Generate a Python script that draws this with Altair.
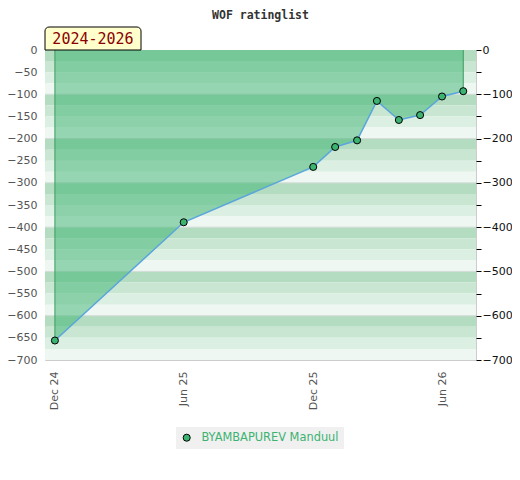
import altair as alt
import pandas as pd

# ---- data ----
dates = ["2024-12-01T00:00:00", "2025-06-01T00:00:00", "2025-12-01T00:00:00",
         "2026-01-01T00:00:00", "2026-02-01T00:00:00", "2026-03-01T00:00:00",
         "2026-04-01T00:00:00", "2026-05-01T00:00:00", "2026-06-01T00:00:00",
         "2026-07-01T00:00:00"]
ratings = [-656, -389, -264, -219, -204, -115, -158, -147, -105, -93]
player = "BYAMBAPUREV Manduul"
period_label = "2024-2026"
chart_title = "WOF ratinglist"
left_ticks = list(range(0, -701, -50))
grid_values = [-100, -200, -300, -400, -500, -600]
stripe_shades = ["#b3dcc1", "#c9e6d3", "#dcefe3", "#eff7f2"]

df = pd.DataFrame({"date": dates, "rating": ratings, "player": player})
ends = df.iloc[[0, len(df) - 1]]

# background stripes (styling): bands of 25 rating points
stripes = pd.DataFrame({
    "top": [-25 * i for i in range(28)],
    "bottom": [-25 * (i + 1) for i in range(28)],
    "shade": [stripe_shades[i % 4] for i in range(28)],
})
grid = pd.DataFrame({"v": grid_values})
label_df = pd.DataFrame({"label": [period_label]})
title_df = pd.DataFrame({"title": [chart_title]})

W, H = 431, 310
ydom = [-700, 0]

x_enc = alt.X(
    "date:T",
    scale=alt.Scale(domain=[alt.DateTime(year=2024, month=11, date=17),
                            alt.DateTime(year=2026, month=7, date=19)]),
    axis=alt.Axis(
        values=[alt.DateTime(year=2024, month=12, date=1),
                alt.DateTime(year=2025, month=6, date=1),
                alt.DateTime(year=2025, month=12, date=1),
                alt.DateTime(year=2026, month=6, date=1)],
        format="%b %y", labelAngle=-90, title=None, ticks=False,
        labelPadding=11, labelColor="#555555", labelFontSize=11,
        domain=False, grid=False,
    ),
)

bg = alt.Chart(stripes).mark_rect(opacity=1).encode(
    x=alt.value(0), x2=alt.value("width"),
    y=alt.Y("top:Q", scale=alt.Scale(domain=ydom, nice=False),
            axis=alt.Axis(orient="left", values=left_ticks, ticks=False,
                          domain=False, labelPadding=8, labelColor="#555555",
                          labelFontSize=11, title=None, grid=False)),
    y2="bottom:Q",
    fill=alt.Fill("shade:N", scale=None),
)

grid_rules = alt.Chart(grid).mark_rule(color="#d5dcd8", strokeWidth=1).encode(
    x=alt.value(0), x2=alt.value("width"),
    y=alt.Y("v:Q", scale=alt.Scale(domain=ydom, nice=False), axis=None),
)

area = alt.Chart(df).mark_area(color="#3cb371", fillOpacity=0.5).encode(
    x=x_enc,
    y=alt.Y("rating:Q", scale=alt.Scale(domain=ydom, nice=False), axis=None),
    y2=alt.datum(0),
)

sides = alt.Chart(ends).mark_rule(color="#3a9d5d", strokeWidth=1).encode(
    x=x_enc,
    y=alt.Y("rating:Q", scale=alt.Scale(domain=ydom, nice=False), axis=None),
    y2=alt.datum(0),
)

line = alt.Chart(df).mark_line(color="#5aa5dc", strokeWidth=1.5).encode(
    x=x_enc,
    y=alt.Y("rating:Q", scale=alt.Scale(domain=ydom, nice=False), axis=None),
)

points = alt.Chart(df).mark_point(
    filled=True, size=50, stroke="black", strokeWidth=1, opacity=1
).encode(
    x=x_enc,
    y=alt.Y("rating:Q", scale=alt.Scale(domain=ydom, nice=False),
            axis=alt.Axis(orient="right", values=left_ticks,
                          labelExpr="datum.value % 100 == 0 ? datum.label : ''",
                          tickColor="black", tickSize=5, labelColor="#111111",
                          labelFontSize=11, domain=False, labelPadding=1,
                          title=None, grid=False)),
    color=alt.Color("player:N", scale=alt.Scale(range=["#3cb371"]),
                    legend=alt.Legend(
                        orient="none", legendX=131, legendY=377,
                        fillColor="#f0f0f0", padding=5, title=None,
                        labelColor="#3cb371", labelFontSize=11.4,
                        labelFont="DejaVu Sans", symbolType="circle",
                        symbolSize=50, symbolStrokeColor="black",
                        symbolStrokeWidth=1, labelOffset=9)),
)

box = alt.Chart(label_df).mark_rect(
    fill="#ffffcc", stroke="black", strokeWidth=1, opacity=1,
    cornerRadiusTopLeft=4, cornerRadiusTopRight=4
).encode(x=alt.value(0), x2=alt.value(96), y=alt.value(-23), y2=alt.value(0))

box_text = alt.Chart(label_df).mark_text(
    font="DejaVu Sans Mono", fontSize=15, color="#8b0000",
    align="center", baseline="middle"
).encode(x=alt.value(48), y=alt.value(-11), text="label:N")

title_text = alt.Chart(title_df).mark_text(
    font="DejaVu Sans Mono", fontSize=11.5, fontWeight="bold", color="#333333",
    align="center", baseline="alphabetic"
).encode(x=alt.value(W / 2), y=alt.value(-31), text="title:N")

chart = alt.layer(
    bg, grid_rules, area, sides, line, points, box, box_text, title_text
).resolve_scale(y="independent").properties(
    width=W, height=H,
    padding={"left": 37, "top": 42, "right": 36, "bottom": 100},
    autosize="none",
).configure_view(stroke="#cccccc").configure_axis(
    labelFont="DejaVu Sans"
)

chart.save("out.html", embed_options={"renderer": "svg", "actions": False})
